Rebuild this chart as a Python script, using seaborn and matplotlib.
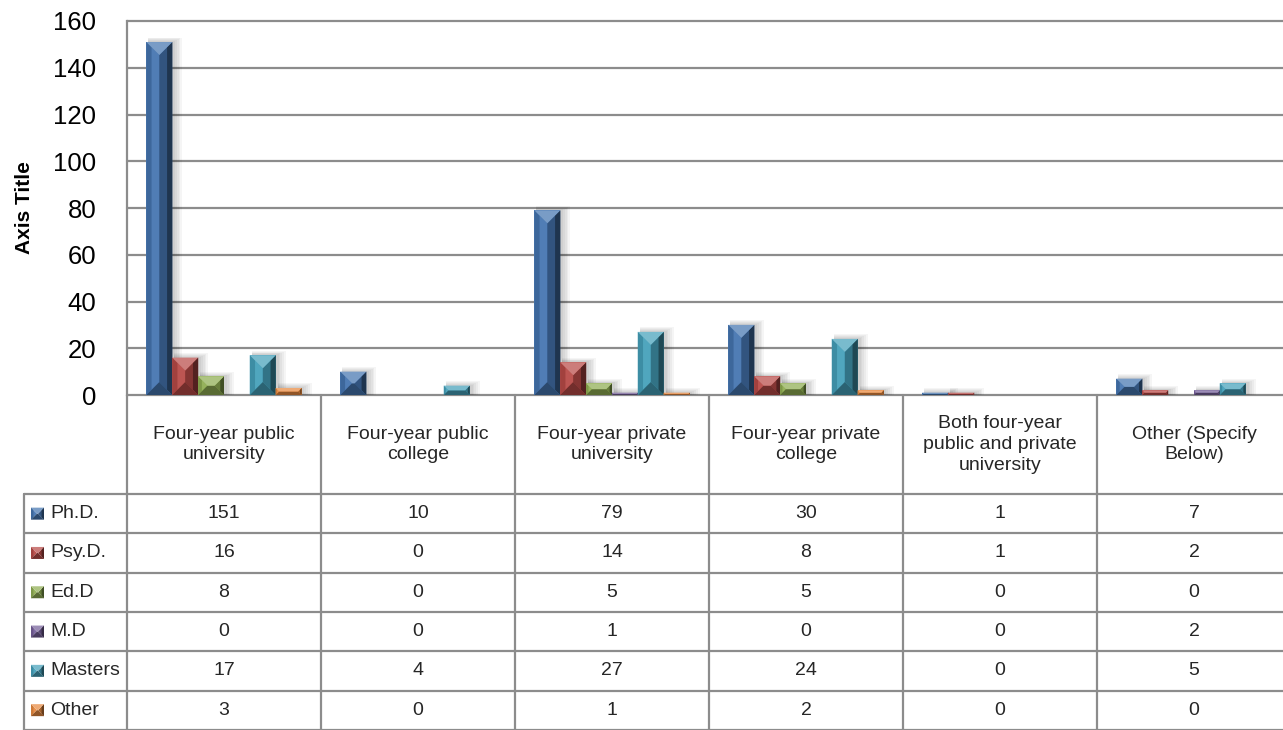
import pandas as pd
import matplotlib.pyplot as plt
import seaborn as sns
from matplotlib.patches import Polygon, Rectangle
from matplotlib.lines import Line2D
from matplotlib.colors import to_rgb

# ===============================
# Data
# ===============================
categories = [
    "Four-year public\nuniversity",
    "Four-year public\ncollege",
    "Four-year private\nuniversity",
    "Four-year private\ncollege",
    "Both four-year\npublic and private\nuniversity",
    "Other (Specify\nBelow)",
]
degrees = ["Ph.D.", "Psy.D.", "Ed.D", "M.D", "Masters", "Other"]
phd = [151, 10, 79, 30, 1, 7]
psyd = [16, 0, 14, 8, 1, 2]
edd = [8, 0, 5, 5, 0, 0]
md = [0, 0, 1, 0, 0, 2]
masters = [17, 4, 27, 24, 0, 5]
other = [3, 0, 1, 2, 0, 0]
y_ticks = [0, 20, 40, 60, 80, 100, 120, 140, 160]
colors = ["#4575B0", "#B84A47", "#8FAD52", "#76609A", "#45A0BA", "#E8893F"]

series = [phd, psyd, edd, md, masters, other]
rows = []
for deg, vals in zip(degrees, series):
    for cat, v in zip(categories, vals):
        rows.append({"category": cat, "degree": deg, "count": v})
df = pd.DataFrame(rows)

# ===============================
# Style
# ===============================
GRID = "#8c8c8c"
sns.set_style("white")
plt.rcParams["font.family"] = ["Liberation Sans Narrow", "Liberation Sans", "DejaVu Sans"]

W, H = 1283, 730
fig = plt.figure(figsize=(W / 100, H / 100), dpi=100)
fig.patch.set_facecolor("white")

# plot area: y=0 at pixel row 395, y=160 at row 21; categories ~194 px wide
ax = fig.add_axes([127 / W, 1 - 395 / H, 1164 / W, 374 / H])

sns.barplot(data=df, x="category", y="count", hue="degree",
            order=categories, hue_order=degrees, palette=colors,
            saturation=1, errorbar=None, width=0.8, legend=False,
            linewidth=0, ax=ax)

ax.set_xlim(-0.5, 5.5)
ax.set_ylim(0, 160)
ax.set_yticks(y_ticks)
ax.set_xticks([])
ax.set_xlabel("")
ax.tick_params(axis="y", length=0, pad=22, labelsize=18.5, labelcolor="black")
ax.grid(axis="y", color=GRID, lw=1.6)
ax.set_axisbelow(True)
for gl in ax.get_ygridlines():
    gl.set_clip_on(False)
for s in ["top", "right", "bottom"]:
    ax.spines[s].set_visible(False)
ax.spines["left"].set_color(GRID)
ax.spines["left"].set_linewidth(1.6)
ax.set_ylabel("Axis Title", fontsize=15, fontweight="bold", color="black")
ax.yaxis.set_label_coords(-0.08, 0.5)


def mix(c, other_c, t):
    return tuple(a * (1 - t) + b * t for a, b in zip(to_rgb(c), to_rgb(other_c)))


def ring(x0, y0, x1, y1, d):
    TL, TR, BR, BL = (x0, y1), (x1, y1), (x1, y0), (x0, y0)
    iTL, iTR = (x0 + d, y1 - d), (x1 - d, y1 - d)
    iBR, iBL = (x1 - d, y0 + d), (x0 + d, y0 + d)
    return {
        "left": [BL, TL, iTL, iBL],
        "right": [TR, BR, iBR, iTR],
        "bottom": [BR, BL, iBL, iBR],
        "top": [TL, TR, iTR, iTL],
        "center": [iBL, iTL, iTR, iBR],
    }


def bevel_faces(x0, y0, x1, y1, base):
    """Polygons (in pixel coords) giving the Excel-like angle bevel."""
    d = min(x1 - x0, y1 - y0) / 2
    full = ring(x0, y0, x1, y1, d)
    edge = ring(x0, y0, x1, y1, d * 0.4)
    return [
        (full["left"], mix(base, "white", 0.06)),
        (edge["left"], mix(base, "black", 0.12)),
        (full["right"], mix(base, "black", 0.28)),
        (edge["right"], mix(base, "black", 0.55)),
        (full["bottom"], mix(base, "black", 0.38)),
        (full["top"], mix(base, "white", 0.28)),
        (full["center"], to_rgb(base)),
    ]


# bevel + shadow on top of every seaborn bar
inv = ax.transData.inverted()
for cont, base in zip(ax.containers, colors):
    for bar in cont:
        if bar.get_height() <= 0:
            bar.set_visible(False)
            continue
        (x0, y0), (x1, y1) = ax.transData.transform(
            [(bar.get_x(), 0), (bar.get_x() + bar.get_width(), bar.get_height())])
        for k in range(1, 6):
            sx0, sy0 = inv.transform((x0 + 2, y0))
            sx1, sy1 = inv.transform((x1 + 1 + 1.8 * k, y1 + 0.9 * k))
            ax.add_patch(Rectangle((sx0, sy0), sx1 - sx0, sy1 - sy0, color="black",
                                   alpha=0.04, lw=0, zorder=1.5, clip_on=False))
        bar.set_zorder(2)
        for pts, fc in bevel_faces(x0, y0, x1, y1, base):
            ax.add_patch(Polygon(inv.transform(pts), closed=True, fc=fc, lw=0,
                                 zorder=2.1, clip_on=False))

# ===============================
# Data table under the chart
# ===============================
def fx(x):
    return x / W


def fy(y):
    return 1 - y / H


col_x = [ax.transData.transform((i - 0.5, 0))[0] for i in range(len(categories) + 1)]
head_top, head_bot, row_h = 395, 494, 39.3
row_y = [head_bot + k * row_h for k in range(len(degrees) + 1)]

line_kw = dict(color=GRID, lw=1.6, transform=fig.transFigure)
for y in row_y:
    fig.add_artist(Line2D([fx(24), fx(W)], [fy(y), fy(y)], **line_kw))
fig.add_artist(Line2D([fx(24), fx(24)], [fy(head_bot), fy(H)], **line_kw))
for x in col_x[:-1]:
    fig.add_artist(Line2D([fx(x), fx(x)], [fy(head_top), fy(H)], **line_kw))

for i, cat in enumerate(categories):
    cx = (col_x[i] + col_x[i + 1]) / 2
    fig.text(fx(cx), fy((head_top + head_bot) / 2), cat, ha="center", va="center",
             fontsize=14, linespacing=1.3)

for r, (deg, vals, base) in enumerate(zip(degrees, series, colors)):
    cy = row_y[r] + row_h / 2
    # legend key drawn as a small bevelled square
    kx0, kx1 = 31, 44
    ky0, ky1 = H - cy - 6, H - cy + 6
    for pts, fc in bevel_faces(kx0, ky0, kx1, ky1, base):
        fig.add_artist(Polygon([(px / W, py / H) for px, py in pts], closed=True,
                               fc=fc, lw=0, transform=fig.transFigure))
    fig.text(fx(50), fy(cy), deg, ha="left", va="center", fontsize=14)
    for i, v in enumerate(vals):
        cx = (col_x[i] + col_x[i + 1]) / 2
        fig.text(fx(cx), fy(cy), str(v), ha="center", va="center", fontsize=14)

fig.savefig("out.png", dpi=100, facecolor="white")
